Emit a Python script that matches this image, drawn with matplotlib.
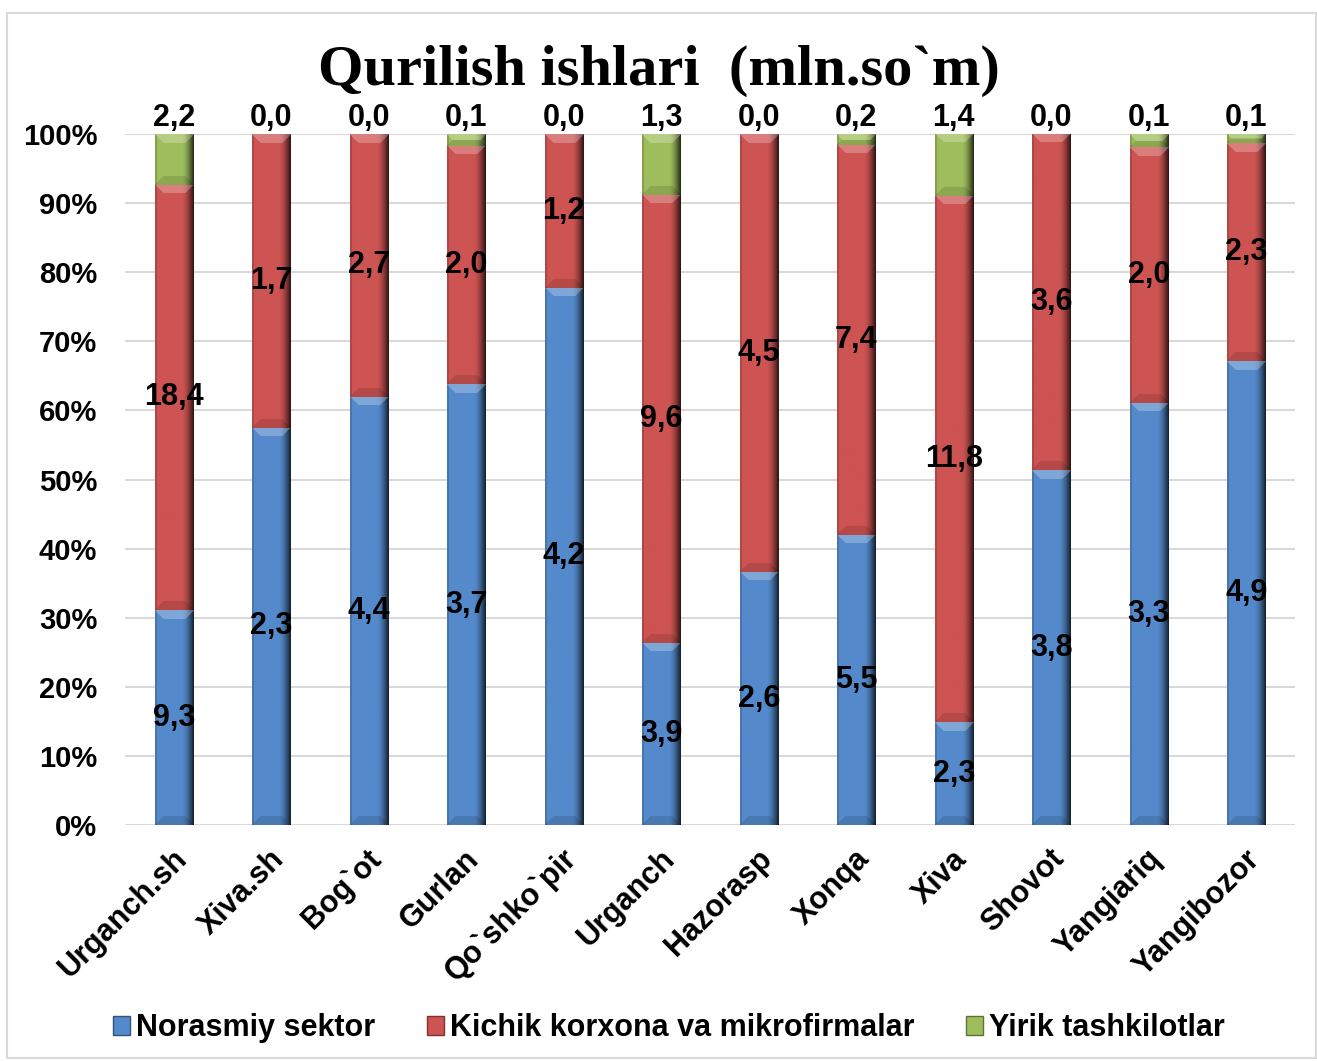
import numpy as np
import matplotlib
matplotlib.use('Agg')
import matplotlib.pyplot as plt
from matplotlib.patches import Rectangle, Patch
from matplotlib.ticker import FuncFormatter
import matplotlib.transforms as mtransforms

categories = ['Urganch.sh', 'Xiva.sh', 'Bog`ot', 'Gurlan', 'Qo`shko`pir', 'Urganch',
              'Hazorasp', 'Xonqa', 'Xiva', 'Shovot', 'Yangiariq', 'Yangibozor']
norasmiy = [9.3, 2.3, 4.4, 3.7, 4.2, 3.9, 2.6, 5.5, 2.3, 3.8, 3.3, 4.9]
kichik = [18.4, 1.7, 2.7, 2.0, 1.2, 9.6, 4.5, 7.4, 11.8, 3.6, 2.0, 2.3]
yirik = [2.2, 0.0, 0.0, 0.1, 0.0, 1.3, 0.0, 0.2, 1.4, 0.0, 0.1, 0.1]

series_names = ['Norasmiy sektor', 'Kichik korxona va mikrofirmalar', 'Yirik tashkilotlar']
colors = [(84, 138, 203), (205, 84, 82), (158, 190, 92)]

plt.rcParams['font.family'] = ['Liberation Sans', 'DejaVu Sans']
plt.rcParams['font.weight'] = 'bold'

fig = plt.figure(figsize=(13.17, 10.61), dpi=100)
ax = fig.add_axes([0.0949, 0.2224, 0.8884, 0.6513])

vals = np.array([norasmiy, kichik, yirik])
pct = vals / vals.sum(axis=0) * 100
bottoms = np.vstack([np.zeros(len(categories)), np.cumsum(pct, axis=0)[:-1]])

bar_w = 0.39
x = np.arange(len(categories))

# pixel sizes for the bevel images
px_per_x = 0.8884 * 1317 / len(categories)
px_per_y = 0.6513 * 1061 / 100


def bevel_img(base, w, h, b=9):
    h = max(int(round(h)), 2)
    w = max(int(round(w)), 2)
    base = np.array(base) / 255.0
    ii, jj = np.mgrid[0:h, 0:w]
    dt = ii.astype(float)
    db = (h - 1 - ii).astype(float)
    dl = jj.astype(float)
    dr = (w - 1 - jj).astype(float)
    bb = min(b, h / 2.0)
    shade = np.ones((h, w))
    # dark right edge
    rs = np.clip(1 - dr / 11.0, 0, 1)
    shade *= 1 - 0.75 * rs ** 1.6
    shade *= np.where(dl < 2, 0.85, 1.0)
    dmin = np.minimum(np.minimum(dt, db), np.minimum(dl, dr))
    top = (dt == dmin) & (dt < bb)
    bot = (db == dmin) & (db < bb) & ~top
    img = base[None, None, :] * shade[..., None]
    img = np.where(top[..., None], img + (1 - img) * 0.25, img)
    img = np.where(bot[..., None], img * 0.88, img)
    return np.clip(img, 0, 1)


for k in range(3):
    for i in range(len(categories)):
        h = pct[k, i]
        if h <= 0:
            continue
        y0 = bottoms[k, i]
        img = bevel_img(colors[k], bar_w * px_per_x, h * px_per_y)
        ax.imshow(img, extent=(x[i] - bar_w / 2, x[i] + bar_w / 2, y0, y0 + h),
                  aspect='auto', interpolation='bilinear', zorder=2)

for i in range(len(categories)):
    for k in range(2):
        ax.text(x[i], bottoms[k, i] + pct[k, i] / 2, f'{vals[k, i]:.1f}'.replace('.', ','),
                ha='center', va='center', fontsize=22, fontweight='bold', zorder=3)
    ax.text(x[i], 100.2, f'{vals[2, i]:.1f}'.replace('.', ','),
            ha='center', va='bottom', fontsize=22, fontweight='bold', zorder=3)

ax.set_xlim(-0.5, len(categories) - 0.5)
ax.set_ylim(0, 100)
ax.set_yticks(np.arange(0, 101, 10))
ax.yaxis.set_major_formatter(FuncFormatter(lambda v, p: f'{int(v)}%'))
ax.grid(axis='y', color='#D9D9D9', lw=1.5, zorder=0)
ax.set_axisbelow(True)
for s in ax.spines.values():
    s.set_visible(False)
ax.tick_params(axis='both', length=0, labelsize=21)
ax.tick_params(axis='y', pad=20)
ax.set_xticks(x)
ax.set_xticklabels(categories, rotation=45, ha='right', rotation_mode='anchor', fontsize=22)
offset = mtransforms.ScaledTranslation(-0.02, -0.14, fig.dpi_scale_trans)
for lab in ax.get_xticklabels():
    lab.set_transform(lab.get_transform() + offset)
    lab.set_fontweight('bold')
for lab in ax.get_yticklabels():
    lab.set_fontweight('bold')

fig.text(0.5, 0.933, 'Qurilish ishlari  (mln.so`m)', ha='center', va='center',
         fontsize=42, fontweight='bold', family='Liberation Serif')

handles = [Patch(facecolor=np.array(c) / 255.0, edgecolor=np.array(c) / 255.0 * 0.6)
           for c in colors]
fig.legend(handles, series_names, loc='center', bbox_to_anchor=(0.508, 0.031), ncol=3,
           frameon=False, handlelength=0.55, handleheight=0.55,
           handletextpad=0.2, columnspacing=1.7, prop={'weight': 'bold', 'size': 22})

fig.patches.append(Rectangle((7 / 1317, 3 / 1061), 1 - 8 / 1317, 1 - 16 / 1061,
                             transform=fig.transFigure, fill=False,
                             edgecolor='#D9D9D9', lw=1.5))

fig.savefig('out.png', dpi=100)
